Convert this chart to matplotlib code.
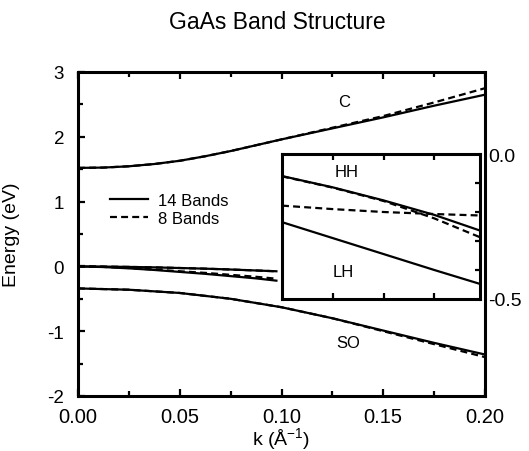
import matplotlib
matplotlib.use("Agg")
import matplotlib.pyplot as plt
from matplotlib.ticker import MultipleLocator, FixedLocator

plt.rcParams['font.family'] = ['Liberation Sans', 'DejaVu Sans']
plt.rcParams['axes.unicode_minus'] = False
plt.rcParams['lines.scale_dashes'] = False
plt.rcParams['mathtext.fontset'] = 'custom'
plt.rcParams['mathtext.rm'] = 'Liberation Sans'

# ---- data ----
k_cb = [0.0, 0.0125, 0.025, 0.0375, 0.05, 0.0625, 0.075, 0.0875, 0.1, 0.125, 0.15, 0.175, 0.2]
c14 = [1.52, 1.525, 1.545, 1.58, 1.63, 1.70, 1.78, 1.87, 1.96, 2.13, 2.30, 2.48, 2.65]
c8 = [1.52, 1.525, 1.545, 1.58, 1.63, 1.70, 1.78, 1.87, 1.96, 2.14, 2.32, 2.53, 2.75]

k_so = [0.0, 0.025, 0.05, 0.075, 0.1, 0.125, 0.15, 0.175, 0.2]
so14 = [-0.34, -0.36, -0.41, -0.50, -0.63, -0.80, -0.99, -1.18, -1.36]
so8 = [-0.34, -0.36, -0.41, -0.50, -0.63, -0.80, -1.00, -1.20, -1.40]

k_v = [0.0, 0.0125, 0.025, 0.0375, 0.05, 0.0625, 0.075, 0.0875, 0.0975]
hh14 = [0.0, -0.003, -0.008, -0.015, -0.025, -0.035, -0.048, -0.063, -0.075]
hh8 = [0.0, -0.003, -0.008, -0.015, -0.025, -0.035, -0.048, -0.063, -0.076]
lh14 = [0.0, -0.01, -0.03, -0.055, -0.085, -0.115, -0.15, -0.185, -0.22]
lh8 = [0.0, -0.008, -0.025, -0.048, -0.075, -0.10, -0.13, -0.16, -0.19]

k_in = [0.1, 0.125, 0.15, 0.175, 0.1975]
hh14_in = [-0.076, -0.115, -0.160, -0.210, -0.264]
hh8_in = [-0.077, -0.116, -0.162, -0.222, -0.287]
lh14_in = [-0.235, -0.29, -0.345, -0.40, -0.448]
lh8_in = [-0.178, -0.19, -0.200, -0.207, -0.212]

xticks = [0.00, 0.05, 0.10, 0.15, 0.20]
yticks = [-2, -1, 0, 1, 2, 3]
inset_yticks = [0.0, -0.5]
inset_ylabels = ['0.0', '-0.5']

LW = 1.6
DASH = (5, 3)

fig = plt.figure(figsize=(5.29, 4.52), dpi=100)
ax = fig.add_axes([78/529, 1-397/452, 407/529, 324/452])

ax.plot(k_cb, c8, color='black', lw=LW, dashes=DASH)
ax.plot(k_so, so8, color='black', lw=LW, dashes=DASH)
ax.plot(k_v, hh8, color='black', lw=LW, dashes=DASH)
ax.plot(k_v, lh8, color='black', lw=LW, dashes=DASH)
l14, = ax.plot(k_cb, c14, color='black', lw=LW)
ax.plot(k_so, so14, color='black', lw=LW)
ax.plot(k_v, hh14, color='black', lw=LW)
ax.plot(k_v, lh14, color='black', lw=LW)
l8, = ax.plot([], [], color='black', lw=LW, dashes=DASH)

ax.set_xlim(0, 0.2)
ax.set_ylim(-2, 3)
ax.set_xticks(xticks)
ax.set_xticklabels([f"{v:.2f}" for v in xticks])
ax.set_yticks(yticks)
ax.set_yticklabels([str(v) for v in yticks])
ax.xaxis.set_minor_locator(MultipleLocator(0.025))
ax.yaxis.set_minor_locator(MultipleLocator(0.5))
ax.tick_params(which='both', direction='in', top=True, right=False, width=1.6)
ax.tick_params(which='major', length=5)
ax.tick_params(which='minor', length=3.5)
ax.tick_params(axis='x', which='major', pad=8, labelsize=14.5)
ax.tick_params(axis='y', which='major', pad=10, labelsize=13.5)
for s in ax.spines.values():
    s.set_linewidth(2.2)

ax.set_ylabel('Energy (eV)', fontsize=14)
ax.yaxis.set_label_coords(-0.1425, 0.5)
ax.set_xlabel(r'k (Å$^{\mathregular{-1}}$)', fontsize=14)
ax.xaxis.label.set_va('baseline')
ax.xaxis.set_label_coords(0.5, -0.152)

ax.text(0.131, 2.54, 'C', fontsize=12, ha='center', va='center')
ax.text(0.133, -1.18, 'SO', fontsize=12, ha='center', va='center')

ax.legend([l14, l8], ['14 Bands', '8 Bands'], loc='upper left',
          bbox_to_anchor=(0.079, 0.628), frameon=False, fontsize=12,
          handlelength=2.3, handletextpad=0.55, labelspacing=0.2,
          borderpad=0, borderaxespad=0)

fig.text(0.525, 1-29/452, 'GaAs Band Structure', fontsize=16.5, ha='center', va='baseline')

# ---- inset ----
axi = fig.add_axes([282/529, 1-300/452, 198/529, 145/452])
axi.set_facecolor('white')
axi.plot(k_in, hh8_in, color='black', lw=LW, dashes=DASH)
axi.plot(k_in, lh8_in, color='black', lw=LW, dashes=DASH)
axi.plot(k_in, hh14_in, color='black', lw=LW)
axi.plot(k_in, lh14_in, color='black', lw=LW)
axi.set_xlim(0.1, 0.1975)
axi.set_ylim(-0.5, 0.0)
axi.xaxis.set_major_locator(FixedLocator([0.125, 0.15, 0.175]))
axi.tick_params(axis='x', which='both', direction='in', top=True, bottom=True,
                labelbottom=False, length=4, width=1.6)
axi.yaxis.tick_right()
axi.set_yticks(inset_yticks)
axi.set_yticklabels(inset_ylabels)
axi.yaxis.set_minor_locator(FixedLocator([-0.1, -0.2, -0.3, -0.4]))
axi.tick_params(axis='y', which='major', length=0, pad=6, labelsize=14)
axi.tick_params(axis='y', which='minor', direction='in', length=3.5, width=1.6)
for s in axi.spines.values():
    s.set_linewidth(2.2)
axi.text(0.132, -0.059, 'HH', fontsize=12, ha='center', va='center')
axi.text(0.130, -0.405, 'LH', fontsize=12, ha='center', va='center')

fig.savefig('out.png', dpi=100)
